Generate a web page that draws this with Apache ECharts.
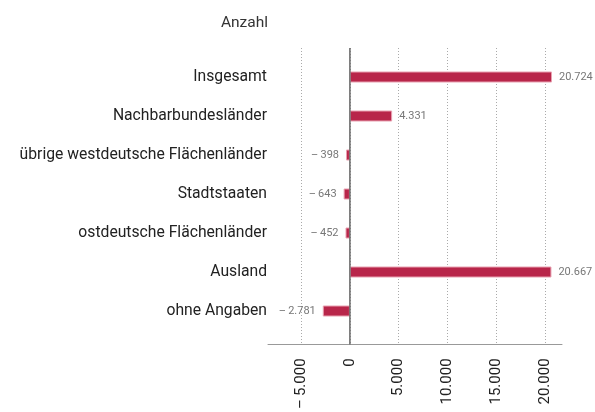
<!DOCTYPE html>
<html><head><meta charset="utf-8">
<script src="https://cdn.jsdelivr.net/npm/echarts@6/dist/echarts.min.js"></script>
<style>html,body{margin:0;padding:0;background:#fff}#c{width:595px;height:412px}</style>
</head><body><div id="c"></div>
<script>
const categories = ['Insgesamt','Nachbarbundesländer','übrige westdeutsche Flächenländer','Stadtstaaten','ostdeutsche Flächenländer','Ausland','ohne Angaben'];
const values = [20724, 4331, -398, -643, -452, 20667, -2781];
const tickValues = [-5000, 0, 5000, 10000, 15000, 20000];
const axisTitle = 'Anzahl';

function fmt(v){
  const s = Math.abs(v).toString().replace(/\B(?=(\d{3})+(?!\d))/g, '.');
  return v < 0 ? '\u2013\u2009' + s : s;
}
const XMIN = -8400, XMAX = 21750;
const FONT = 'Roboto';
const chart = echarts.init(document.getElementById('c'), null, {renderer:'canvas'});
chart.setOption({
  animation:false,
  backgroundColor:'#fff',
  textStyle:{fontFamily:FONT},
  title:{text:axisTitle, right:322, top:10, textStyle:{fontSize:15.5, fontWeight:'normal', color:'#333', fontFamily:FONT}},
  grid:[
    {left:268, right:33, top:48, bottom:67},
    {left:268, right:33, top:57.5, height:273}
  ],
  xAxis:[
    {gridIndex:0, type:'value', min:XMIN, max:XMAX, offset:4,
     axisLine:{show:true, lineStyle:{color:'#999', width:1}},
     axisTick:{show:false, customValues:tickValues},
     axisLabel:{customValues:tickValues, rotate:90, margin:10, fontSize:15, color:'#222', fontFamily:FONT, formatter:fmt},
     splitLine:{show:true, customValues:tickValues, lineStyle:{type:[1,2], color:'#aaa', width:1}}},
    {gridIndex:1, type:'value', min:XMIN, max:XMAX, show:false, splitLine:{show:false}}
  ],
  yAxis:[
    {gridIndex:0, type:'value', min:0, max:1, show:false, splitLine:{show:false}},
    {gridIndex:1, type:'category', inverse:true, data:categories,
     axisLine:{show:false}, axisTick:{show:false},
     axisLabel:{fontSize:15.7, color:'#222', margin:1, fontFamily:FONT}}
  ],
  series:[
    {type:'line', xAxisIndex:0, yAxisIndex:0, data:[[0,0],[0,1]], symbol:'none',
     lineStyle:{color:'#666', width:1.5}, silent:true},
    {type:'bar', xAxisIndex:1, yAxisIndex:1, barWidth:11,
     data: values.map(v => ({value:v, label:{position: v<0 ? 'left':'right'}})),
     itemStyle:{color:'#b8264a', borderColor:'#e8a0b0', borderWidth:1},
     label:{show:true, distance:7, fontSize:11, color:'#777', fontFamily:'Roboto',
       formatter:p=>fmt(p.value)}
    }
  ]
});
</script></body></html>
